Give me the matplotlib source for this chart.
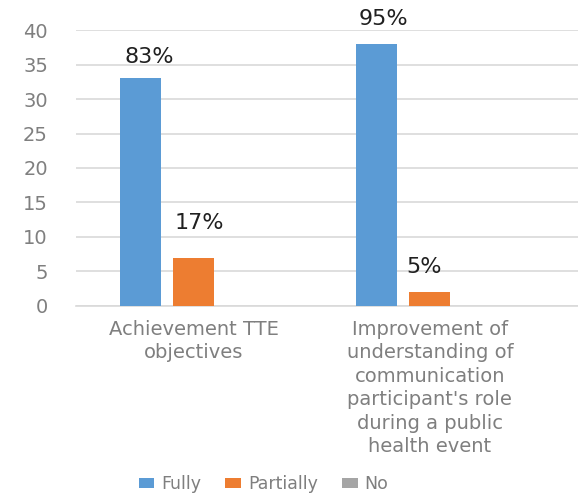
import numpy as np
import matplotlib.pyplot as plt

categories = ["Achievement TTE\nobjectives",
              "Improvement of\nunderstanding of\ncommunication\nparticipant's role\nduring a public\nhealth event"]
series = ["Fully", "Partially", "No"]
fully = [33, 38]
partially = [7, 2]
no = [0, 0]
pct_fully = ["83%", "95%"]
pct_partially = ["17%", "5%"]

colors = ["#5B9BD5", "#ED7D31", "#A5A5A5"]
grey = "#7F7F7F"

fig = plt.figure(figsize=(5.78, 4.94), dpi=100)
ax = fig.add_axes([0.131, 0.381, 0.869, 0.558])

x = np.arange(len(categories))
w = 0.174
step = 0.225
bars_f = ax.bar(x - step, fully, w, color=colors[0], label=series[0], zorder=3)
bars_p = ax.bar(x, partially, w, color=colors[1], label=series[1], zorder=3)
bars_n = ax.bar(x + step, no, w, color=colors[2], label=series[2], zorder=3)

# percentage labels over the bars (nudged a little like the original)
for b, t, off in zip(bars_f, pct_fully, [(6, 8), (5, 11)]):
    ax.annotate(t, (b.get_x() + b.get_width() / 2, b.get_height()),
                xytext=off, textcoords="offset points",
                ha="center", va="bottom", fontsize=16, color="#202020")
for b, t, off in zip(bars_p, pct_partially, [(4, 18), (-4, 11)]):
    ax.annotate(t, (b.get_x() + b.get_width() / 2, b.get_height()),
                xytext=off, textcoords="offset points",
                ha="center", va="bottom", fontsize=16, color="#202020")

ax.set_ylim(0, 40)
ax.set_yticks(range(0, 41, 5))
ax.set_xlim(-0.5, 1.627)
ax.set_xticks(x)
ax.set_xticklabels(categories)
for lbl in ax.get_xticklabels():
    lbl.set_linespacing(1.3)

ax.grid(axis="y", color="#D9D9D9", linewidth=1.2, zorder=0)
for s in ["top", "right", "left"]:
    ax.spines[s].set_visible(False)
ax.spines["bottom"].set_color("#D9D9D9")
ax.spines["bottom"].set_linewidth(1.2)
ax.tick_params(axis="both", length=0, colors=grey)
ax.tick_params(axis="y", pad=20, labelsize=14)
ax.tick_params(axis="x", pad=10, labelsize=14)

fig.legend(loc="center", bbox_to_anchor=(0.456, 0.02), ncol=3, frameon=False,
           fontsize=12.5, labelcolor=grey, handlelength=0.9, handleheight=0.5,
           handletextpad=0.4, columnspacing=1.4)

fig.savefig("out.png", dpi=100)
